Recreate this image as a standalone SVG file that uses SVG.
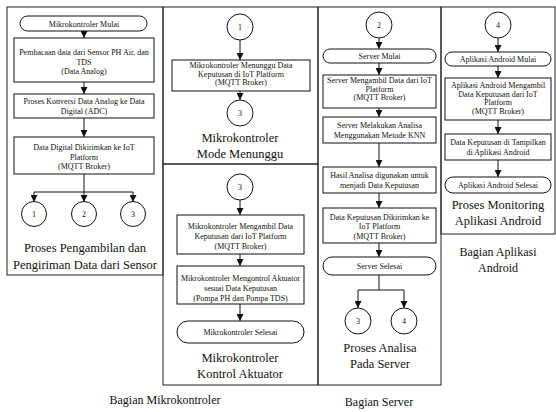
<svg xmlns="http://www.w3.org/2000/svg" width="556" height="412" viewBox="0 0 556 412">
<style>
.fr{fill:none;stroke:#222;stroke-width:1}
.bx{fill:#fff;stroke:#111;stroke-width:1}
.ln{fill:none;stroke:#111;stroke-width:1}
.t{font-family:"Liberation Serif","Times New Roman",serif;font-size:8px;fill:#111;text-anchor:middle}
.h{font-family:"Liberation Serif","Times New Roman",serif;font-size:12.5px;fill:#111;text-anchor:middle}
.b{font-family:"Liberation Serif","Times New Roman",serif;font-size:12px;fill:#111;text-anchor:middle}
</style>
<defs>
<marker id="ah" viewBox="0 0 8 8" refX="8" refY="4" markerWidth="7" markerHeight="7" markerUnits="userSpaceOnUse" orient="auto">
<path d="M0,0 L8,4 L0,8 Z" fill="#111"/>
</marker>
</defs>
<rect width="556" height="412" fill="#fff"/>

<g id="frames">
<rect class="fr" x="7" y="7" width="156" height="268"/>
<rect class="fr" x="163" y="7" width="155" height="157"/>
<rect class="fr" x="163" y="164" width="155" height="221"/>
<rect class="fr" x="318" y="7" width="123" height="378"/>
<rect class="fr" x="441" y="7" width="114" height="227"/>
</g>

<g id="connectors">
<line class="ln" x1="84" y1="31" x2="84" y2="38" marker-end="url(#ah)"/>
<line class="ln" x1="84" y1="82" x2="84" y2="94" marker-end="url(#ah)"/>
<line class="ln" x1="84" y1="118" x2="84" y2="137" marker-end="url(#ah)"/>
<polyline class="ln" points="84,174 84,192"/>
<line class="ln" x1="34" y1="192" x2="133" y2="192"/>
<line class="ln" x1="34" y1="192" x2="34" y2="202" marker-end="url(#ah)"/>
<line class="ln" x1="84" y1="192" x2="84" y2="202" marker-end="url(#ah)"/>
<line class="ln" x1="133" y1="192" x2="133" y2="202" marker-end="url(#ah)"/>

<line class="ln" x1="240" y1="40" x2="240" y2="60" marker-end="url(#ah)"/>
<line class="ln" x1="240" y1="91" x2="240" y2="100" marker-end="url(#ah)"/>

<line class="ln" x1="240" y1="200" x2="240" y2="215" marker-end="url(#ah)"/>
<line class="ln" x1="240" y1="254" x2="240" y2="266" marker-end="url(#ah)"/>
<line class="ln" x1="240" y1="304" x2="240" y2="321" marker-end="url(#ah)"/>

<line class="ln" x1="379" y1="38" x2="379" y2="49" marker-end="url(#ah)"/>
<line class="ln" x1="379" y1="63" x2="379" y2="75" marker-end="url(#ah)"/>
<line class="ln" x1="379" y1="108" x2="379" y2="117" marker-end="url(#ah)"/>
<line class="ln" x1="379" y1="143" x2="379" y2="167" marker-end="url(#ah)"/>
<line class="ln" x1="379" y1="193" x2="379" y2="208" marker-end="url(#ah)"/>
<line class="ln" x1="379" y1="243" x2="379" y2="257" marker-end="url(#ah)"/>
<line class="ln" x1="379" y1="275" x2="379" y2="290"/>
<line class="ln" x1="358" y1="290" x2="404" y2="290"/>
<line class="ln" x1="358" y1="290" x2="358" y2="308" marker-end="url(#ah)"/>
<line class="ln" x1="404" y1="290" x2="404" y2="308" marker-end="url(#ah)"/>

<line class="ln" x1="498" y1="38" x2="498" y2="52" marker-end="url(#ah)"/>
<line class="ln" x1="498" y1="66" x2="498" y2="78" marker-end="url(#ah)"/>
<line class="ln" x1="498" y1="120" x2="498" y2="134" marker-end="url(#ah)"/>
<line class="ln" x1="498" y1="160" x2="498" y2="177" marker-end="url(#ah)"/>
</g>

<g id="n-mk-mulai"><rect class="bx" x="20" y="16" width="127" height="15" rx="7.5"/><text class="t" x="84" y="26.5">Mikrokontroler Mulai</text></g>
<g id="n-pembacaan"><rect class="bx" x="14" y="38" width="140" height="44"/><text class="t" x="84" y="55">Pembacaan data dari Sensor PH Air, dan</text><text class="t" x="84" y="64.5">TDS</text><text class="t" x="84" y="74">(Data Analog)</text></g>
<g id="n-konversi"><rect class="bx" x="14" y="94" width="140" height="24"/><text class="t" x="84" y="104">Proses Konversi Data Analog ke Data</text><text class="t" x="84" y="113.5">Digital (ADC)</text></g>
<g id="n-dikirim"><rect class="bx" x="14" y="137" width="140" height="37"/><text class="t" x="84" y="150">Data Digital Dikirimkan ke IoT</text><text class="t" x="84" y="159.5">Platform</text><text class="t" x="84" y="169">(MQTT Broker)</text></g>
<g id="n-c1a"><circle class="bx" cx="34" cy="214" r="12.5"/><text class="t" x="34" y="217">1</text></g>
<g id="n-c2a"><circle class="bx" cx="84" cy="214" r="12.5"/><text class="t" x="84" y="217">2</text></g>
<g id="n-c3a"><circle class="bx" cx="133" cy="214" r="12.5"/><text class="t" x="133" y="217">3</text></g>
<g id="title-1"><text class="h" x="85" y="252">Proses Pengambilan dan</text><text class="h" x="85" y="269">Pengiriman Data dari Sensor</text></g>

<g id="n-c1b"><circle class="bx" cx="240" cy="27" r="13"/><text class="t" x="240" y="30">1</text></g>
<g id="n-menunggu"><rect class="bx" x="172" y="60" width="138" height="31"/><text class="t" x="241" y="68">Mikrokontroler Menunggu Data</text><text class="t" x="241" y="76.5">Keputusan di IoT Platform</text><text class="t" x="241" y="85">(MQTT Broker)</text></g>
<g id="n-c3b"><circle class="bx" cx="240" cy="113" r="13"/><text class="t" x="240" y="116">3</text></g>
<g id="title-2"><text class="h" x="240" y="142">Mikrokontroler</text><text class="h" x="240" y="158">Mode Menunggu</text></g>

<g id="n-c3c"><circle class="bx" cx="240" cy="187" r="13"/><text class="t" x="240" y="190">3</text></g>
<g id="n-mengambil"><rect class="bx" x="177" y="215" width="127" height="39"/><text class="t" x="240.5" y="229">Mikrokontroler Mengambil Data</text><text class="t" x="240.5" y="239">Keputusan dari IoT Platform</text><text class="t" x="240.5" y="249">(MQTT Broker)</text></g>
<g id="n-mengontrol"><rect class="bx" x="177" y="266" width="127" height="38"/><text class="t" x="240.5" y="281">Mikrokontroler Mengontrol Aktuator</text><text class="t" x="240.5" y="291">sesuai Data Keputusan</text><text class="t" x="240.5" y="301">(Pompa PH dan Pompa TDS)</text></g>
<g id="n-mk-selesai"><rect class="bx" x="177" y="321" width="127" height="22" rx="11"/><text class="t" x="240.5" y="335">Mikrokontroler Selesai</text></g>
<g id="title-3"><text class="h" x="240" y="362">Mikrokontroler</text><text class="h" x="240" y="378">Kontrol Aktuator</text></g>

<g id="n-c2b"><circle class="bx" cx="379" cy="25" r="13"/><text class="t" x="379" y="28">2</text></g>
<g id="n-srv-mulai"><rect class="bx" x="323" y="49" width="113" height="14" rx="7"/><text class="t" x="379.5" y="59">Server Mulai</text></g>
<g id="n-srv-ambil"><rect class="bx" x="323" y="75" width="113" height="33"/><text class="t" x="379.5" y="83">Server Mengambil Data dari IoT</text><text class="t" x="379.5" y="91.5">Platform</text><text class="t" x="379.5" y="100">(MQTT Broker)</text></g>
<g id="n-srv-knn"><rect class="bx" x="323" y="117" width="113" height="26"/><text class="t" x="379.5" y="128">Server Melakukan Analisa</text><text class="t" x="379.5" y="137.5">Menggunakan Metode KNN</text></g>
<g id="n-hasil"><rect class="bx" x="323" y="167" width="113" height="26"/><text class="t" x="379.5" y="178">Hasil Analisa digunakan untuk</text><text class="t" x="379.5" y="188">menjadi Data Keputusan</text></g>
<g id="n-srv-kirim"><rect class="bx" x="323" y="208" width="113" height="35"/><text class="t" x="379.5" y="219.5">Data Keputusan Dikirimkan ke</text><text class="t" x="379.5" y="229">IoT Platform</text><text class="t" x="379.5" y="238.5">(MQTT Broker)</text></g>
<g id="n-srv-selesai"><rect class="bx" x="323" y="257" width="113" height="18" rx="9"/><text class="t" x="379.5" y="269">Server Selesai</text></g>
<g id="n-c3d"><circle class="bx" cx="358" cy="321" r="13"/><text class="t" x="358" y="324">3</text></g>
<g id="n-c4a"><circle class="bx" cx="404" cy="321" r="13"/><text class="t" x="404" y="324">4</text></g>
<g id="title-4"><text class="h" x="380" y="352">Proses Analisa</text><text class="h" x="380" y="368">Pada Server</text></g>

<g id="n-c4b"><circle class="bx" cx="498" cy="25" r="13"/><text class="t" x="498" y="28">4</text></g>
<g id="n-and-mulai"><rect class="bx" x="445" y="52" width="106" height="14" rx="7"/><text class="t" x="498" y="62">Aplikasi Android Mulai</text></g>
<g id="n-and-ambil"><rect class="bx" x="445" y="78" width="106" height="42"/><text class="t" x="498" y="88">Aplikasi Android Mengambil</text><text class="t" x="498" y="96.5">Data Keputusan dari IoT</text><text class="t" x="498" y="105">Platform</text><text class="t" x="498" y="113.5">(MQTT Broker)</text></g>
<g id="n-and-tampil"><rect class="bx" x="445" y="134" width="106" height="26"/><text class="t" x="498" y="145">Data Keputusan di Tampilkan</text><text class="t" x="498" y="154.5">di Aplikasi Android</text></g>
<g id="n-and-selesai"><rect class="bx" x="445" y="177" width="106" height="16" rx="8"/><text class="t" x="498" y="188">Aplikasi Android Selesai</text></g>
<g id="title-5"><text class="h" x="498" y="209">Proses Monitoring</text><text class="h" x="498" y="225">Aplikasi Android</text></g>

<g id="labels">
<text class="b" x="165" y="404">Bagian Mikrokontroler</text>
<text class="b" x="379" y="406">Bagian Server</text>
<text class="b" x="498" y="256">Bagian Aplikasi</text>
<text class="b" x="498" y="272">Android</text>
</g>
</svg>
